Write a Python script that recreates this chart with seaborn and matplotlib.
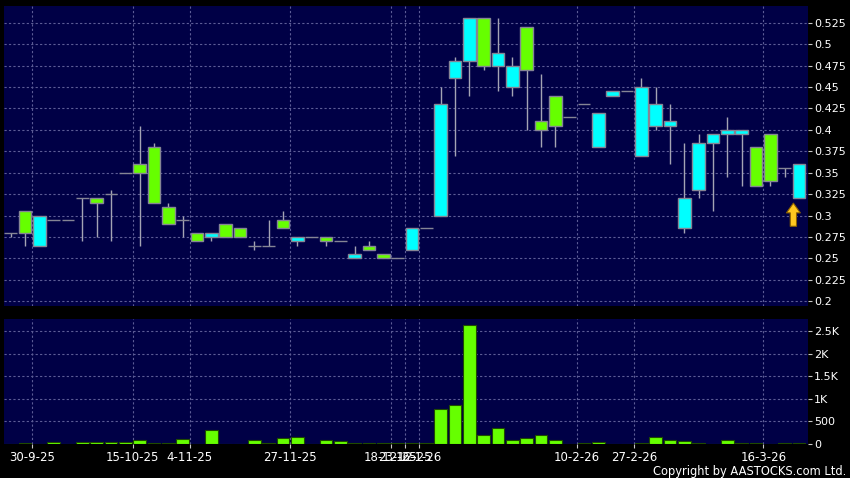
import numpy as np
import matplotlib
matplotlib.use("Agg")
import matplotlib.pyplot as plt
from matplotlib.ticker import FixedLocator, FixedFormatter
import seaborn as sns

# daily candles (oldest first)
open_p = [0.28, 0.305, 0.265, 0.295, 0.295, 0.32, 0.32, 0.325, 0.35, 0.36,
          0.38, 0.31, 0.295, 0.28, 0.275, 0.29, 0.285, 0.265, 0.265, 0.295,
          0.27, 0.275, 0.275, 0.27, 0.25, 0.265, 0.255, 0.25, 0.26, 0.285,
          0.30, 0.46, 0.48, 0.53, 0.475, 0.45, 0.52, 0.41, 0.44, 0.415,
          0.43, 0.38, 0.44, 0.445, 0.37, 0.405, 0.405, 0.285, 0.33, 0.385,
          0.395, 0.395, 0.38, 0.395, 0.355, 0.32]
high_p = [0.28, 0.305, 0.30, 0.295, 0.295, 0.32, 0.32, 0.33, 0.35, 0.405,
          0.385, 0.315, 0.30, 0.28, 0.28, 0.29, 0.285, 0.27, 0.295, 0.305,
          0.275, 0.275, 0.275, 0.27, 0.265, 0.27, 0.255, 0.25, 0.285, 0.285,
          0.45, 0.485, 0.53, 0.53, 0.53, 0.485, 0.52, 0.465, 0.44, 0.415,
          0.43, 0.42, 0.445, 0.445, 0.46, 0.45, 0.43, 0.385, 0.395, 0.395,
          0.415, 0.40, 0.38, 0.395, 0.355, 0.36]
low_p = [0.275, 0.265, 0.265, 0.295, 0.295, 0.27, 0.275, 0.27, 0.35, 0.265,
         0.315, 0.29, 0.275, 0.27, 0.27, 0.275, 0.275, 0.26, 0.265, 0.285,
         0.265, 0.275, 0.265, 0.27, 0.25, 0.26, 0.25, 0.25, 0.26, 0.285,
         0.30, 0.37, 0.44, 0.47, 0.445, 0.44, 0.40, 0.38, 0.38, 0.415,
         0.43, 0.38, 0.44, 0.445, 0.37, 0.40, 0.36, 0.28, 0.32, 0.305,
         0.345, 0.335, 0.335, 0.335, 0.345, 0.32]
close_p = [0.28, 0.28, 0.30, 0.295, 0.295, 0.32, 0.315, 0.325, 0.35, 0.35,
           0.315, 0.29, 0.295, 0.27, 0.28, 0.275, 0.275, 0.265, 0.265, 0.285,
           0.275, 0.275, 0.27, 0.27, 0.255, 0.26, 0.25, 0.25, 0.285, 0.285,
           0.43, 0.48, 0.53, 0.475, 0.49, 0.475, 0.47, 0.40, 0.405, 0.415,
           0.43, 0.42, 0.445, 0.445, 0.45, 0.43, 0.41, 0.32, 0.385, 0.395,
           0.40, 0.40, 0.335, 0.34, 0.355, 0.36]
volume = [0, 10, 0, 37, 0, 30, 30, 30, 30, 67,
          15, 15, 90, 0, 298, 0, 0, 74, 15, 112,
          141, 0, 74, 60, 15, 15, 15, 10, 10, 10,
          760, 860, 2640, 200, 355, 74, 115, 190, 74, 0,
          10, 30, 0, 0, 15, 134, 67, 52, 15, 0,
          67, 20, 20, 0, 20, 20]

date_pos = [1.5, 8.5, 12.5, 19.5, 26.5, 27.5, 28.5, 39.5, 43.5, 52.5]
date_labels = ["30-9-25", "15-10-25", "4-11-25", "27-11-25", "18-12-25",
               "23-12-25", "16-1-26", "10-2-26", "27-2-26", "16-3-26"]
price_ticks = [0.2, 0.225, 0.25, 0.275, 0.3, 0.325, 0.35, 0.375, 0.4,
               0.425, 0.45, 0.475, 0.5, 0.525]
vol_ticks = [0, 500, 1000, 1500, 2000, 2500]
vol_labels = ["0", "500", "1K", "1.5K", "2K", "2.5K"]

NAVY = "#000046"
UP = "#00FFFF"
DOWN = "#66FF00"
GRID = "#5c5c96"

sns.set_style("dark", {"axes.facecolor": NAVY, "figure.facecolor": "black",
                       "axes.edgecolor": NAVY, "grid.color": GRID})
plt.rcParams["font.family"] = ["DejaVu Sans"]

fig = plt.figure(figsize=(8.5, 4.78), dpi=100)
ax = fig.add_axes([4 / 850, 1 - 306 / 478, 804 / 850, 300 / 478])
axv = fig.add_axes([4 / 850, 1 - 443.5 / 478, 804 / 850, 124.5 / 478])

idx = np.arange(len(open_p))
o = np.array(open_p)
c = np.array(close_p)
colors = [UP if cc > oo else DOWN for oo, cc in zip(o, c)]

# price panel
ax.vlines(idx, low_p, high_p, color="#a4a4b4", linewidth=1, zorder=2)
ax.bar(idx, np.abs(c - o), bottom=np.minimum(o, c), width=0.88,
       color=colors, edgecolor="#858595", linewidth=1, zorder=3)
ax.annotate("", xy=(54.6, 0.3145), xytext=(54.6, 0.2875),
            arrowprops=dict(arrowstyle="simple,head_length=0.7,head_width=1.0,tail_width=0.45",
                            fc="#FFC820", ec="#8a6000", lw=0.8,
                            mutation_scale=10, shrinkA=0, shrinkB=0),
            zorder=4)

# volume panel
sns.barplot(x=idx, y=volume, ax=axv, color=DOWN, saturation=1,
            edgecolor="#1f4a00", linewidth=0.8, width=0.88,
            errorbar=None, zorder=3)

for a in (ax, axv):
    a.set_xlim(-0.47, 55.62)
    a.grid(False)
    for s in a.spines.values():
        s.set_visible(False)
    a.yaxis.tick_right()
    a.tick_params(axis="y", colors="#c8c8c8", labelcolor="white",
                  direction="out", length=3, width=0.8, pad=1.5, labelsize=8)
    for xp in date_pos:
        a.axvline(xp, color=GRID, linewidth=0.8, linestyle=(0, (2, 2)), zorder=1)
    a.set_xlabel("")
    a.set_ylabel("")

ax.set_ylim(0.1945, 0.5445)
ax.yaxis.set_major_locator(FixedLocator(price_ticks))
ax.yaxis.set_major_formatter(FixedFormatter([f"{t:g}" for t in price_ticks]))
for t in price_ticks:
    ax.axhline(t, color=GRID, linewidth=0.8, linestyle=(0, (2, 2)), zorder=1)
ax.set_xticks([])

axv.set_ylim(0, 2770)
axv.yaxis.set_major_locator(FixedLocator(vol_ticks))
axv.yaxis.set_major_formatter(FixedFormatter(vol_labels))
for t in vol_ticks[1:]:
    axv.axhline(t, color=GRID, linewidth=0.8, linestyle=(0, (2, 2)), zorder=1)
axv.set_xticks(date_pos)
axv.set_xticklabels(date_labels)
axv.tick_params(axis="x", colors="#c8c8c8", labelcolor="white", direction="out",
                length=3, width=0.8, pad=2.5, labelsize=8.5, bottom=True)

fig.text(846 / 850, 1 - 471 / 478, "Copyright by AASTOCKS.com Ltd.",
         ha="right", va="center", color="white", fontsize=8.3)

fig.savefig("out.png", dpi=100, facecolor="black")
